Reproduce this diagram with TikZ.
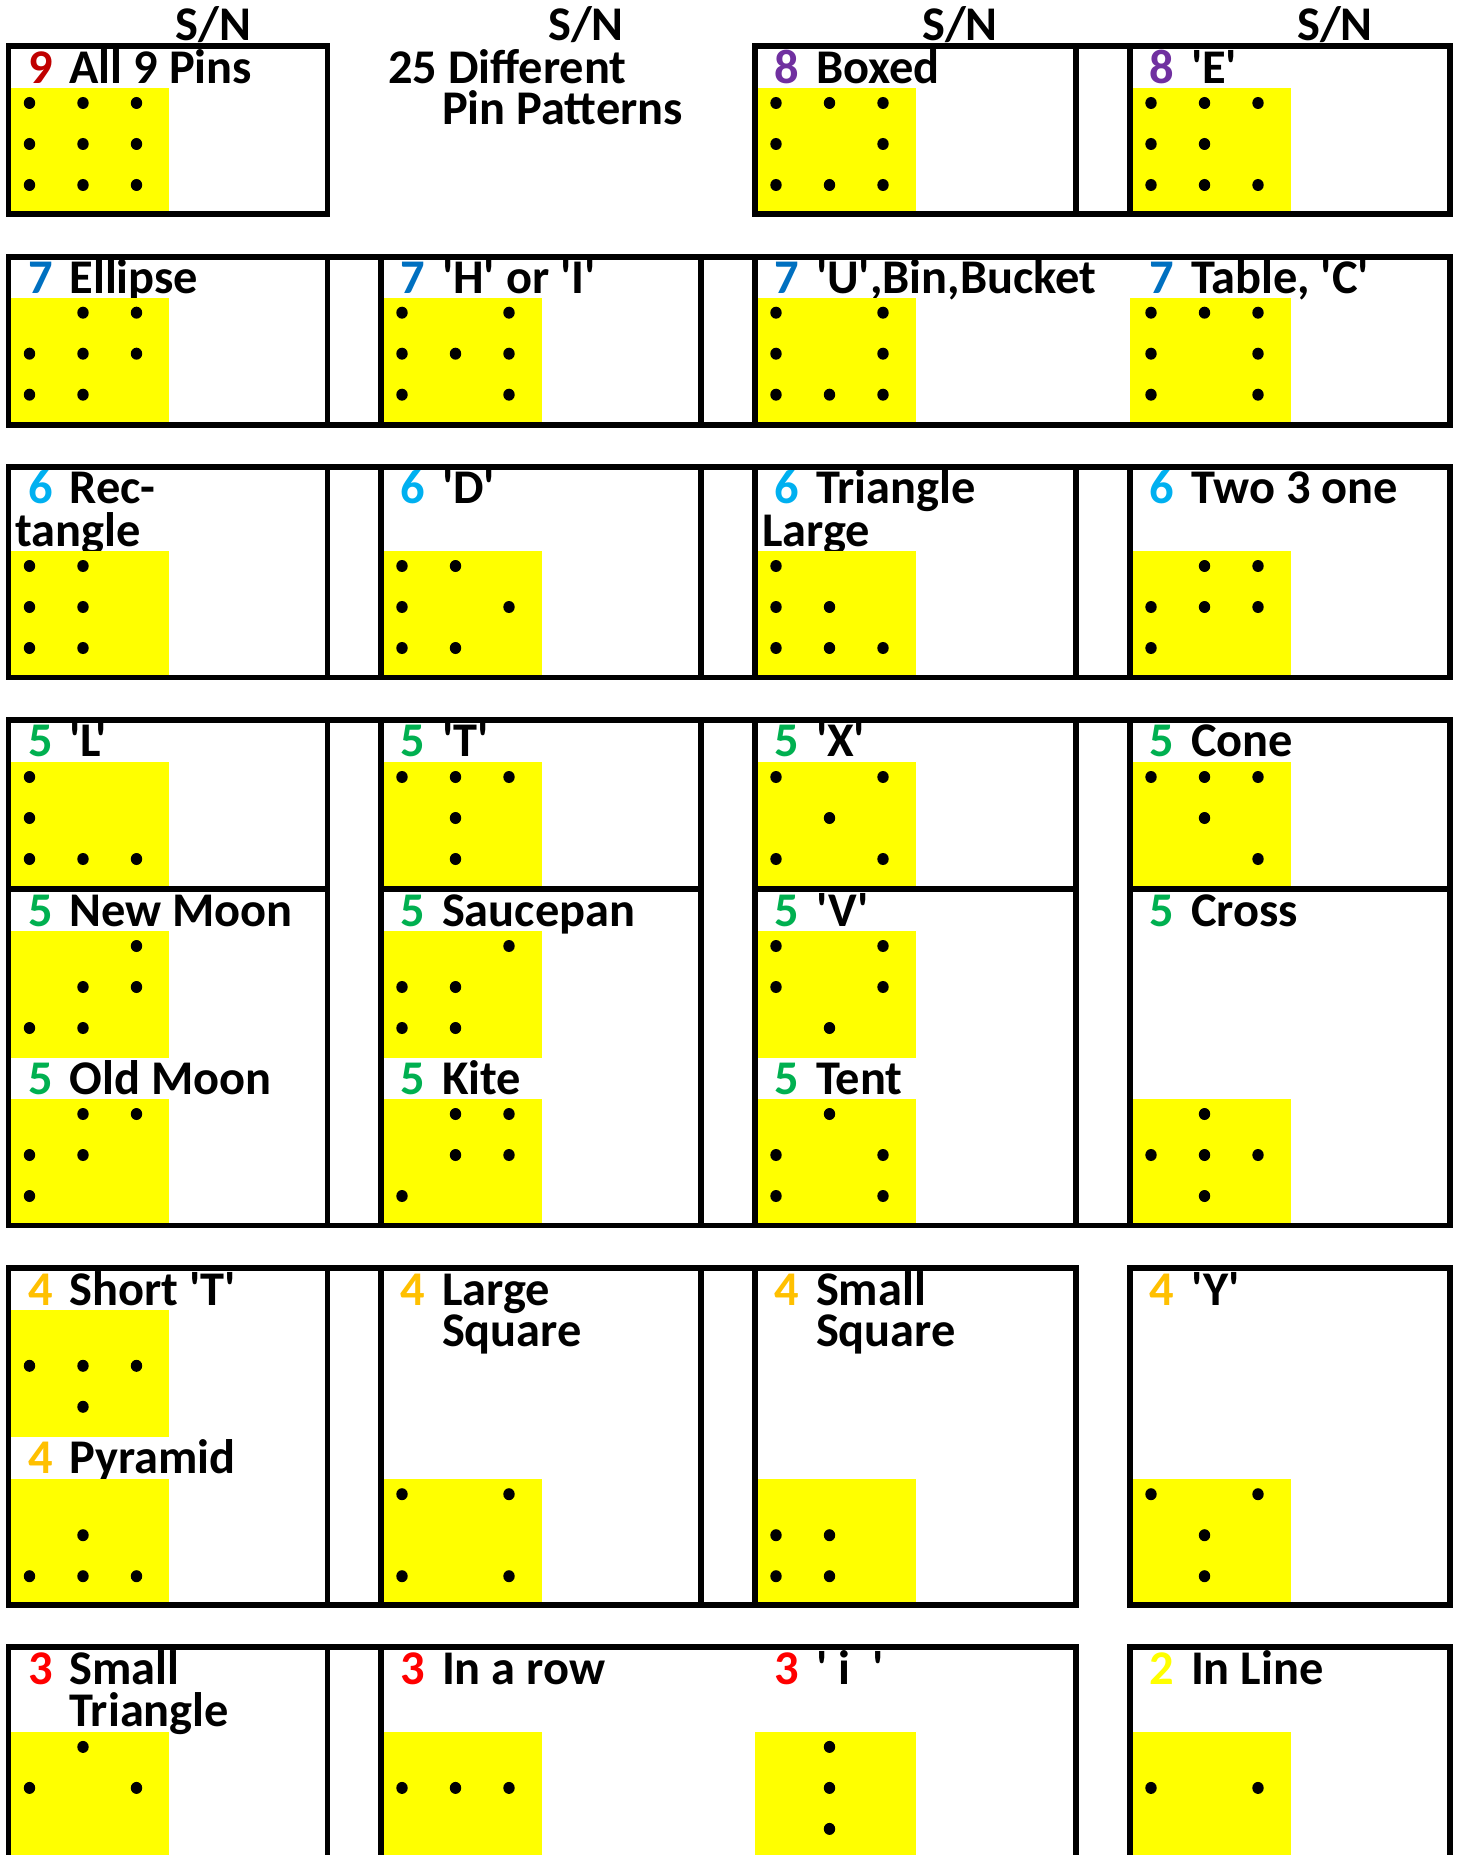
\documentclass[tikz,border=0pt]{standalone}
\usepackage{fontspec}
\setmainfont{Carlito}[Ligatures=TeXOff]
\definecolor{cDR}{HTML}{C00000}
\definecolor{cPU}{HTML}{7030A0}
\definecolor{cBL}{HTML}{0070C0}
\definecolor{cLB}{HTML}{00B0F0}
\definecolor{cGR}{HTML}{00B050}
\definecolor{cOR}{HTML}{FFC000}
\definecolor{cRD}{HTML}{FF0000}
\definecolor{cYE}{HTML}{FFFF00}
\tikzset{
  frame/.style={draw=black, line width=2.85pt},
  ylw/.style={fill=cYE},
  pin/.style={fill=black},
  txt/.style={anchor=base west, inner sep=0pt, outer sep=0pt, text height=0.62em, text depth=0pt, font=\bfseries\fontsize{24.2}{29}\selectfont},
  hdr/.style={anchor=base, inner sep=0pt, outer sep=0pt, text height=0.62em, text depth=0pt, font=\bfseries\fontsize{24.2}{29}\selectfont}
}
\newcommand\pinfield[4]{%
  \fill[ylw] (#1,#2) rectangle ({#1+160.5},#3);
  \foreach \ix/\iy in {#4}{\fill[pin] ({#1+21+53.5*(\ix-1)},{#2+15+41*(\iy-1)}) ellipse [x radius=2.85pt, y radius=3pt];}
}
\newcommand\pinlabel[6]{%
  \node[txt,text=#5] (#1n) at ({#2+19.5},#3) {#4};
  \node[txt] (#1t) at ({#2+61},#3) {#6};
}
\begin{document}
\begin{tikzpicture}[x=0.5pt,y=-0.5pt]
\useasboundingbox (0,0) rectangle (1459,1855);
\clip (0,0) rectangle (1459,1855);
\fill[white] (0,0) rectangle (1459,1855);

% ---------- texts ----------
\node[hdr] (sn1) at (213.5,40.7) {S/N};
\node[hdr] (sn2) at (586,40.7) {S/N};
\node[hdr] (sn3) at (960,40.7) {S/N};
\node[hdr] (sn4) at (1335,40.7) {S/N};

% row 1
\pinlabel{aa}{8.5}{83.3}{9}{cDR}{All 9 Pins}
\node[txt] (title1) at (388,83.3) {25 Different};
\node[txt] (title2) at (442,125) {Pin Patterns};
\pinlabel{ab}{755}{83.3}{8}{cPU}{Boxed}
\pinlabel{ac}{1130}{83.3}{8}{cPU}{'E'}
% row 2
\pinlabel{ba}{8.5}{293.3}{7}{cBL}{Ellipse}
\pinlabel{bb}{381}{293.3}{7}{cBL}{'H' or 'I'}
\pinlabel{bc}{755}{293.3}{7}{cBL}{'U',Bin,Bucket}
\pinlabel{bd}{1130}{293.3}{7}{cBL}{Table, 'C'}
% row 3
\pinlabel{ca}{8.5}{504}{6}{cLB}{Rec-}
\node[txt] (ca2) at (15.5,546) {tangle};
\pinlabel{cb}{381}{504}{6}{cLB}{'D'}
\pinlabel{cc}{755}{504}{6}{cLB}{Triangle}
\node[txt] (cc2) at (762,546) {Large};
\pinlabel{cd}{1130}{504}{6}{cLB}{Two 3 one}
% row 4
\pinlabel{da}{8.5}{756.7}{5}{cGR}{'L'}
\pinlabel{db}{381}{756.7}{5}{cGR}{'T'}
\pinlabel{dc}{755}{756.7}{5}{cGR}{'X'}
\pinlabel{dd}{1130}{756.7}{5}{cGR}{Cone}
\pinlabel{ea}{8.5}{926.7}{5}{cGR}{New Moon}
\pinlabel{eb}{381}{926.7}{5}{cGR}{Saucepan}
\pinlabel{ec}{755}{926.7}{5}{cGR}{'V'}
\pinlabel{ed}{1130}{926.7}{5}{cGR}{Cross}
\pinlabel{fa}{8.5}{1094.3}{5}{cGR}{Old Moon}
\pinlabel{fb}{381}{1094.3}{5}{cGR}{Kite}
\pinlabel{fc}{755}{1094.3}{5}{cGR}{Tent}
% row 5
\pinlabel{ga}{8.5}{1305.2}{4}{cOR}{Short 'T'}
\pinlabel{gb}{381}{1305.2}{4}{cOR}{Large}
\node[txt] (gb2) at (442,1346.5) {Square};
\pinlabel{gc}{755}{1305.2}{4}{cOR}{Small}
\node[txt] (gc2) at (816,1346.5) {Square};
\pinlabel{gd}{1130}{1305.2}{4}{cOR}{'Y'}
\pinlabel{ha}{8.5}{1473}{4}{cOR}{Pyramid}
% row 6
\pinlabel{ia}{8.5}{1684}{3}{cRD}{Small}
\node[txt] (ia2) at (69.5,1726.5) {Triangle};
\pinlabel{ib}{381}{1684}{3}{cRD}{In a row}
\pinlabel{ic}{755}{1684}{3}{cRD}{'~i~~'}
\pinlabel{id}{1130}{1684}{2}{cYE}{In Line}

% ---------- yellow pin fields ----------
% row 1
\pinfield{8.5}{88}{213.7}{1/1,2/1,3/1,1/2,2/2,3/2,1/3,2/3,3/3}
\pinfield{755}{88}{213.7}{1/1,2/1,3/1,1/2,3/2,1/3,2/3,3/3}
\pinfield{1130}{88}{213.7}{1/1,2/1,3/1,1/2,2/2,1/3,2/3,3/3}
% row 2
\pinfield{8.5}{297.7}{425}{2/1,3/1,1/2,2/2,3/2,1/3,2/3}
\pinfield{381}{297.7}{425}{1/1,3/1,1/2,2/2,3/2,1/3,3/3}
\pinfield{755}{297.7}{425}{1/1,3/1,1/2,3/2,1/3,2/3,3/3}
\pinfield{1130}{297.7}{425}{1/1,2/1,3/1,1/2,3/2,1/3,3/3}
% row 3
\pinfield{8.5}{551}{677.5}{1/1,2/1,1/2,2/2,1/3,2/3}
\pinfield{381}{551}{677.5}{1/1,2/1,1/2,3/2,1/3,2/3}
\pinfield{755}{551}{677.5}{1/1,1/2,2/2,1/3,2/3,3/3}
\pinfield{1130}{551}{677.5}{2/1,3/1,1/2,2/2,3/2,1/3}
% row 4
\pinfield{8.5}{762}{889}{1/1,1/2,1/3,2/3,3/3}
\pinfield{381}{762}{889}{1/1,2/1,3/1,2/2,2/3}
\pinfield{755}{762}{889}{1/1,3/1,2/2,1/3,3/3}
\pinfield{1130}{762}{889}{1/1,2/1,3/1,2/2,3/3}
\pinfield{8.5}{931}{1057.7}{3/1,2/2,3/2,1/3,2/3}
\pinfield{381}{931}{1057.7}{3/1,1/2,2/2,1/3,2/3}
\pinfield{755}{931}{1057.7}{1/1,3/1,1/2,3/2,2/3}
\pinfield{8.5}{1099}{1225.5}{2/1,3/1,1/2,2/2,1/3}
\pinfield{381}{1099}{1225.5}{2/1,3/1,2/2,3/2,1/3}
\pinfield{755}{1099}{1225.5}{2/1,1/2,3/2,1/3,3/3}
\pinfield{1130}{1099}{1225.5}{2/1,1/2,2/2,3/2,2/3}
% row 5
\pinfield{8.5}{1309.8}{1436.5}{1/2,2/2,3/2,2/3}
\pinfield{8.5}{1479.2}{1604.7}{2/2,1/3,2/3,3/3}
\pinfield{381}{1479.2}{1604.7}{1/1,3/1,1/3,3/3}
\pinfield{755}{1479.2}{1604.7}{1/2,2/2,1/3,2/3}
\pinfield{1130}{1479.2}{1604.7}{1/1,3/1,2/2,2/3}
% row 6
\pinfield{8.5}{1731.9}{1900}{2/1,1/2,3/2}
\pinfield{381}{1731.9}{1900}{1/2,2/2,3/2}
\pinfield{755}{1731.9}{1900}{2/1,2/2,2/3}
\pinfield{1130}{1731.9}{1900}{1/2,3/2}

% ---------- frames ----------
% row 1
\draw[frame] (8.5,46) rectangle (327.5,213.7);
\draw[frame] (755,46) rectangle (1450,213.7);
\draw[frame] (1076,46) -- (1076,213.7) (1130,46) -- (1130,213.7);
% row 2
\draw[frame] (8.5,256.7) rectangle (1450,425);
\foreach \x in {327.5,381,701,755} \draw[frame] (\x,256.7) -- (\x,425);
% row 3
\draw[frame] (8.5,467) rectangle (1450,677.5);
\foreach \x in {327.5,381,701,755,1076,1130} \draw[frame] (\x,467) -- (\x,677.5);
% row 4
\draw[frame] (8.5,720) rectangle (1450,1225.5);
\foreach \x in {327.5,381,701,755,1076,1130} \draw[frame] (\x,720) -- (\x,1225.5);
\foreach \a/\b in {8.5/327.5,381/701,755/1076,1130/1450} \draw[frame] (\a,889) -- (\b,889);
% row 5
\draw[frame] (8.5,1268.3) rectangle (1076,1604.7);
\foreach \x in {327.5,381,701,755} \draw[frame] (\x,1268.3) -- (\x,1604.7);
\draw[frame] (1130,1268.3) rectangle (1450,1604.7);
% row 6
\draw[frame] (8.5,1900) -- (8.5,1647.2) -- (1076,1647.2) -- (1076,1900);
\foreach \x in {327.5,381} \draw[frame] (\x,1647.2) -- (\x,1900);
\draw[frame] (1130,1900) -- (1130,1647.2) -- (1450,1647.2) -- (1450,1900);
\end{tikzpicture}
\end{document}
